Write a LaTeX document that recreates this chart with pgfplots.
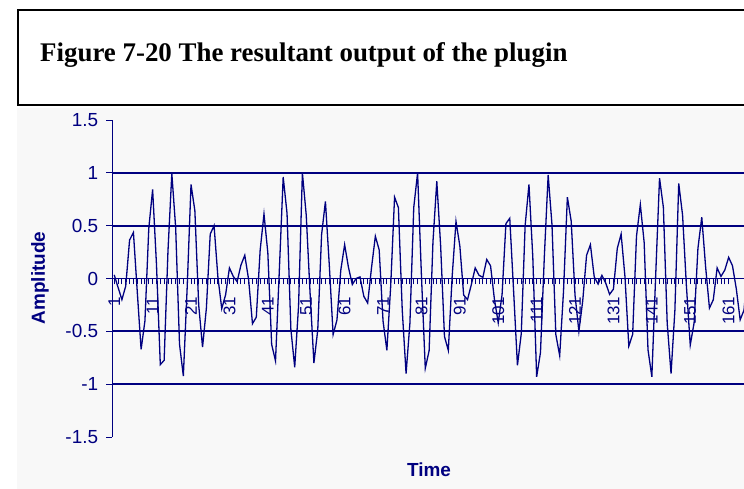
\documentclass[border=0pt]{standalone}
\usepackage{pgfplots}
\pgfplotsset{compat=1.18}
\usepackage{fontspec}
\setmainfont{Liberation Sans}
\newfontfamily\titlefont{Liberation Serif}
\definecolor{navy}{RGB}{0,0,128}
\definecolor{bg}{RGB}{248,248,248}
\begin{document}
\begin{tikzpicture}[x=1bp,y=1bp]
\clip (0,0) rectangle (744,489);
\fill[white] (0,0) rectangle (744,489);
\fill[bg] (17,0) rectangle (744,381);
\draw[black, line width=1.5bp] (18,384) rectangle (770,479);
\node[anchor=base west, inner sep=0] at (40,427) {\titlefont\bfseries\fontsize{27}{27}\selectfont Figure 7-20 The resultant output of the plugin};
\begin{axis}[
  at={(112.3bp,52bp)}, anchor=south west,
  scale only axis, width=631.7bp, height=317bp,
  xmin=0.5, xmax=165, ymin=-1.5, ymax=1.5,
  axis y line=left, axis x line=middle,
  axis line style={-, navy, line width=1.6bp},
  hide obscured x ticks=false,
  ytick={-1.5,-1,-0.5,0,0.5,1,1.5},
  yticklabels={-1.5,-1,-0.5,0,0.5,1,1.5},
  xtick={1,11,21,31,41,51,61,71,81,91,101,111,121,131,141,151,161},
  xticklabels={1,11,21,31,41,51,61,71,81,91,101,111,121,131,141,151,161},
  minor x tick num=9,
  tick align=outside,
  major tick length=6bp, minor tick length=6bp,
  tick style={navy, line width=0.9bp},
  yticklabel style={font=\fontsize{19}{19}\selectfont, text=navy, inner sep=0pt, xshift=-8bp},
  xticklabel style={font=\fontsize{17}{17}\selectfont, text=navy, inner sep=0pt, yshift=-12bp, rotate=90, anchor=east},
  /pgf/number format/assume math mode=true,
]
\draw[navy, line width=1.7bp] (axis cs:0.5,1) -- (axis cs:165,1);
\draw[navy, line width=1.7bp] (axis cs:0.5,0.5) -- (axis cs:165,0.5);
\draw[navy, line width=1.7bp] (axis cs:0.5,-0.5) -- (axis cs:165,-0.5);
\draw[navy, line width=1.7bp] (axis cs:0.5,-1) -- (axis cs:165,-1);
\addplot[navy, line width=1.3bp, mark=none] coordinates {
(1,0.034) (2,-0.084) (3,-0.2) (4,-0.072) (5,0.364) (6,0.436) (7,-0.125) (8,-0.671) (9,-0.401) (10,0.473)
(11,0.842) (12,0.135) (13,-0.815) (14,-0.774) (15,0.262) (16,0.993) (17,0.482) (18,-0.621) (19,-0.923) (20,-0.083)
(21,0.89) (22,0.641) (23,-0.252) (24,-0.65) (25,-0.281) (26,0.42) (27,0.5) (28,0.012) (29,-0.285) (30,-0.155)
(31,0.1) (32,0.02) (33,-0.03) (34,0.127) (35,0.22) (36,-0.011) (37,-0.428) (38,-0.366) (39,0.267) (40,0.61)
(41,0.244) (42,-0.625) (43,-0.78) (44,0.082) (45,0.96) (46,0.617) (47,-0.48) (48,-0.84) (49,-0.262) (50,1.0)
(51,0.6) (52,-0.137) (53,-0.8) (54,-0.487) (55,0.415) (56,0.73) (57,0.131) (58,-0.53) (59,-0.393) (60,0.079)
(61,0.32) (62,0.105) (63,-0.057) (64,0.0) (65,0.015) (66,-0.169) (67,-0.232) (68,0.102) (69,0.4) (70,0.27)
(71,-0.402) (72,-0.68) (73,-0.069) (74,0.77) (75,0.671) (76,-0.297) (77,-0.9) (78,-0.422) (79,0.672) (80,1.0)
(81,0.029) (82,-0.85) (83,-0.683) (84,0.346) (85,0.92) (86,0.31) (87,-0.549) (88,-0.68) (89,0.019) (90,0.54)
(91,0.308) (92,-0.157) (93,-0.2) (94,-0.057) (95,0.1) (96,0.03) (97,0.011) (98,0.18) (99,0.12) (100,-0.195)
(101,-0.42) (102,-0.151) (103,0.519) (104,0.57) (105,-0.117) (106,-0.822) (107,-0.521) (108,0.499) (109,0.89) (110,0.203)
(111,-0.93) (112,-0.7) (113,0.204) (114,0.98) (115,0.506) (116,-0.531) (117,-0.73) (118,-0.12) (119,0.77) (120,0.542)
(121,-0.16) (122,-0.5) (123,-0.212) (124,0.219) (125,0.32) (126,0.014) (127,-0.053) (128,0.03) (129,-0.044) (130,-0.15)
(131,-0.1) (132,0.285) (133,0.42) (134,0.017) (135,-0.64) (136,-0.529) (137,0.4) (138,0.7) (139,0.34) (140,-0.676)
(141,-0.93) (142,0.03) (143,0.95) (144,0.674) (145,-0.425) (146,-0.9) (147,-0.301) (148,0.9) (149,0.6) (150,-0.071)
(151,-0.63) (152,-0.42) (153,0.285) (154,0.58) (155,0.111) (156,-0.28) (157,-0.201) (158,0.1) (159,0.02) (160,0.08)
(161,0.2) (162,0.12) (163,-0.1) (164,-0.39) (165,-0.3) (166,0.125)
};
\end{axis}
\node[font=\bfseries\fontsize{19}{19}\selectfont, text=navy] at (429,19) {Time};
\node[font=\bfseries\fontsize{19}{19}\selectfont, text=navy, rotate=90] at (40,211) {Amplitude};
\end{tikzpicture}
\end{document}
